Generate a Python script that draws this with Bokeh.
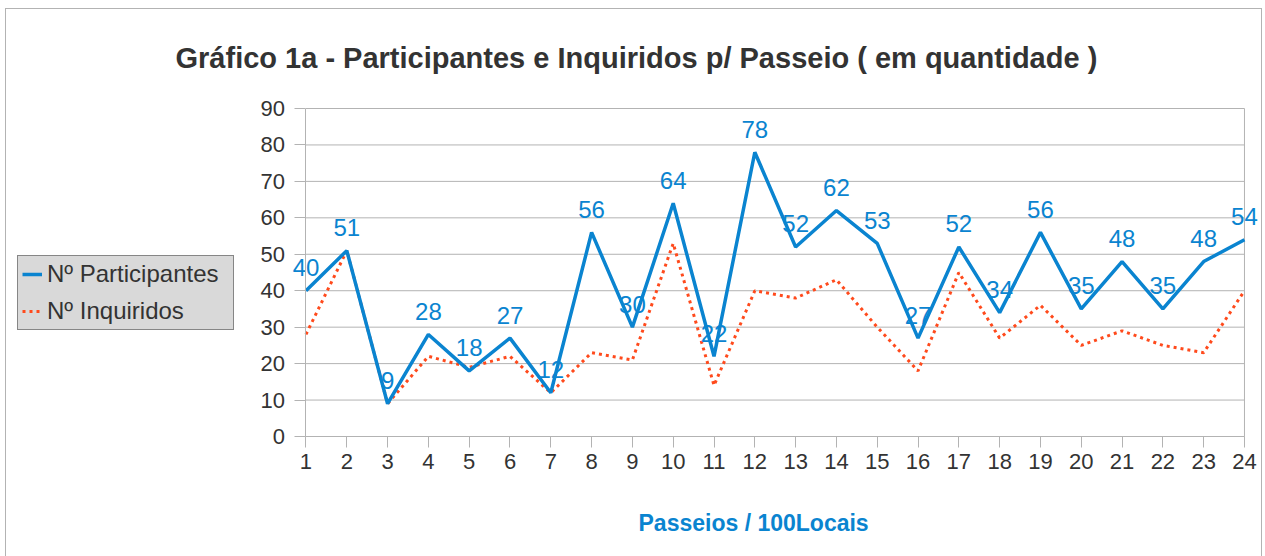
from bokeh.plotting import figure
from bokeh.models import ColumnDataSource, Legend, LegendItem, Title, FixedTicker, Range1d
from bokeh.core.properties import value
from bokeh.embed import file_html
from bokeh.resources import INLINE

passeios = list(range(1, 25))
participantes = [40, 51, 9, 28, 18, 27, 12, 56, 30, 64, 22, 78, 52, 62, 53, 27, 52, 34, 56, 35, 48, 35, 48, 54]
inquiridos = [28, 51, 9, 22, 19, 22, 12, 23, 21, 53, 14, 40, 38, 43, 30, 18, 45, 27, 36, 25, 29, 25, 23, 40]
y_ticks = [0, 10, 20, 30, 40, 50, 60, 70, 80, 90]

BLUE = "#0a84d0"
RED = "#ff4a1c"
GRID = "#b3b3b3"
FONT = "Liberation Sans"

# layout: the frame is larger than the plotting area so legend/axis labels are not clipped
PLOT_W = 937.0     # px between first and last category
LEFT_PAD = 299.0   # px from frame left to first category
RIGHT_PAD = 18.0   # px right of last category
PLOT_H = 328.0     # px between 0 and 90
TOP_PAD = 16.0     # px above 90
BOTTOM_PAD = 44.0  # px below 0
xu = (passeios[-1] - passeios[0]) / PLOT_W
yu = (y_ticks[-1] - y_ticks[0]) / PLOT_H
x_start = passeios[0] - LEFT_PAD * xu
x_end = passeios[-1] + RIGHT_PAD * xu
y_start = y_ticks[0] - BOTTOM_PAD * yu
y_end = y_ticks[-1] + TOP_PAD * yu

src = ColumnDataSource(dict(x=passeios, p=participantes, i=inquiridos,
                            lbl=[str(v) for v in participantes]))
n = len(y_ticks)
grid_src = ColumnDataSource(dict(x0=[passeios[0]] * n + [passeios[-1]],
                                 x1=[passeios[-1]] * n + [passeios[-1]],
                                 y0=y_ticks + [y_ticks[0]],
                                 y1=y_ticks + [y_ticks[-1]]))

p = figure(width=1257, height=566, output_backend="svg", toolbar_location=None,
           x_range=Range1d(x_start, x_end), y_range=Range1d(y_start, y_end),
           min_border_left=0, min_border_right=1, min_border_top=83, min_border_bottom=95)
p.styles = {"border": "1px solid #b3b3b3", "margin-left": "5px", "margin-top": "8px"}
p.outline_line_color = None
p.background_fill_color = "white"
p.border_fill_color = "white"
p.xgrid.grid_line_color = None
p.ygrid.grid_line_color = None

p.segment("x0", "y0", "x1", "y1", source=grid_src, line_color=GRID, line_width=1)

r_i = p.line("x", "i", source=src, line_color=RED, line_width=3, line_dash="3 4")
r_p = p.line("x", "p", source=src, line_color=BLUE, line_width=3.5)
p.text("x", "p", text="lbl", source=src, text_color=BLUE, text_font_size="24px",
       text_align="center", text_baseline="alphabetic", y_offset=-23,
       text_font=value(FONT))

p.xaxis.ticker = FixedTicker(ticks=passeios)
p.yaxis.ticker = FixedTicker(ticks=y_ticks)
p.xaxis.bounds = (passeios[0], passeios[-1])
p.yaxis.bounds = (y_ticks[0], y_ticks[-1])
p.yaxis.fixed_location = passeios[0]
p.xaxis.fixed_location = y_ticks[0]
for ax in (p.xaxis[0], p.yaxis[0]):
    ax.axis_line_color = GRID
    ax.major_tick_line_color = GRID
    ax.major_tick_in = 0
    ax.major_tick_out = 11
    ax.minor_tick_line_color = None
    ax.major_label_text_font = FONT
    ax.major_label_text_font_size = "22px"
    ax.major_label_text_color = "#333333"
p.xaxis.major_label_standoff = 6
p.yaxis.major_label_standoff = 10

xlabel = Title(text="Passeios / 100Locais", align="left", offset=632,
               text_font=FONT, text_font_size="23px", text_font_style="bold",
               text_color=BLUE, standoff=54)
p.add_layout(xlabel, "below")

title = Title(text="Gráfico 1a -  Participantes e Inquiridos p/ Passeio ( em quantidade )",
              align="left", offset=169, text_font=FONT, text_font_size="29px",
              text_font_style="bold", text_color="#333333", standoff=37)
p.add_layout(title, "above")

legend = Legend(items=[LegendItem(label="Nº Participantes", renderers=[r_p]),
                       LegendItem(label="Nº Inquiridos", renderers=[r_i])],
                location=(11, 150), background_fill_color="#d9d9d9", background_fill_alpha=1,
                border_line_color="#333333", border_line_width=1,
                label_text_font=FONT, label_text_font_size="24px", label_text_color="#333333",
                glyph_width=20, glyph_height=24, label_height=24, label_width=182,
                label_standoff=5, spacing=9, padding=4, margin=0)
p.add_layout(legend, "center")

open("out.html", "w").write(file_html(p, INLINE))
